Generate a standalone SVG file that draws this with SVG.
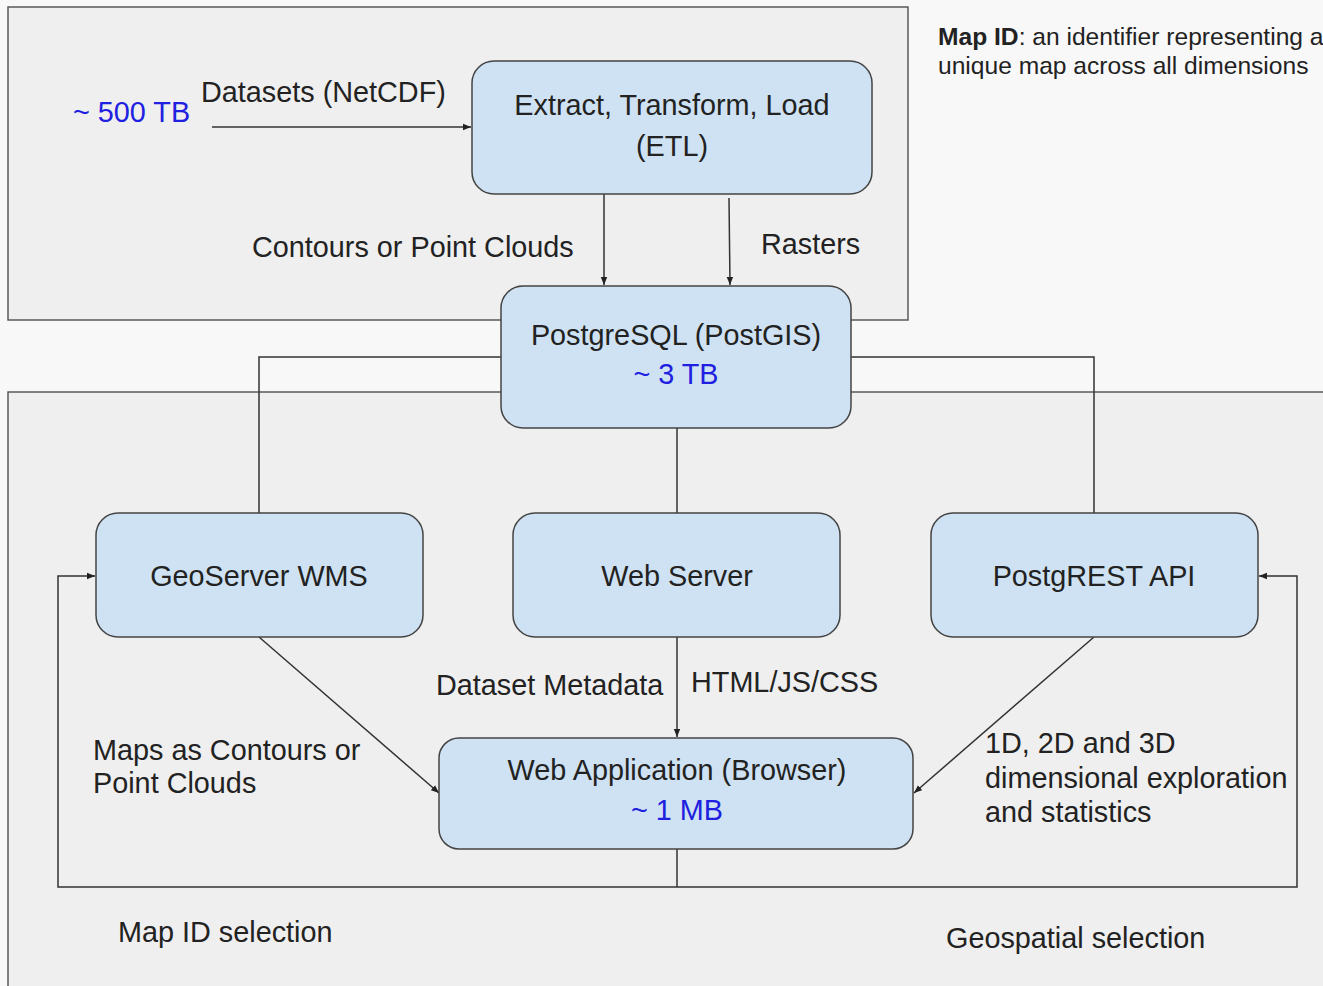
<svg xmlns="http://www.w3.org/2000/svg" width="1323" height="986" viewBox="0 0 1323 986">
<style>
.bg{fill:#f8f8f8}
.cont{fill:#efefef;stroke:#595959;stroke-width:1.5}
.node rect{fill:#cfe2f3;stroke:#444;stroke-width:1.5}
text{font-family:"Liberation Sans",Arial,sans-serif;font-size:28.8px;fill:#222}
.c{text-anchor:middle}
.blue{fill:#2020e0}
.conn line,.conn polyline{stroke:#333;stroke-width:1.5;fill:none}
.note{font-size:24.6px}
</style>
<defs>
<marker id="ah" viewBox="0 0 10 10" refX="10" refY="5" markerWidth="8" markerHeight="8" markerUnits="userSpaceOnUse" orient="auto">
<path d="M0,1 L10,5 L0,9 Z" fill="#222"/>
</marker>
</defs>
<rect class="bg" x="0" y="0" width="1323" height="986"/>
<rect id="top-container" class="cont" x="8" y="7" width="900" height="313"/>
<rect id="bottom-container" class="cont" x="8" y="392" width="1330" height="620"/>

<g class="conn" id="connectors">
<line x1="212" y1="127" x2="471" y2="127" marker-end="url(#ah)"/>
<line x1="604" y1="194" x2="604" y2="285" marker-end="url(#ah)"/>
<line x1="729" y1="198" x2="730" y2="285" marker-end="url(#ah)"/>
<polyline points="501,357 259,357 259,513"/>
<polyline points="851,357 1094,357 1094,513"/>
<line x1="677" y1="428" x2="677" y2="513"/>
<line x1="677" y1="637" x2="677" y2="737" marker-end="url(#ah)"/>
<line x1="259" y1="637" x2="439" y2="793" marker-end="url(#ah)"/>
<line x1="1094" y1="637" x2="914" y2="793" marker-end="url(#ah)"/>
<line x1="677" y1="849" x2="677" y2="887"/>
<polyline points="677,887 58,887 58,576 95,576" marker-end="url(#ah)"/>
<polyline points="677,887 1297,887 1297,576 1259,576" marker-end="url(#ah)"/>
</g>

<g id="etl" class="node">
<rect x="472" y="61" width="400" height="133" rx="22"/>
<text class="c" x="672" y="115">Extract, Transform, Load</text>
<text class="c" x="672" y="156">(ETL)</text>
</g>
<g id="postgres" class="node">
<rect x="501" y="286" width="350" height="142" rx="22"/>
<text class="c" x="676" y="345">PostgreSQL (PostGIS)</text>
<text class="c blue" x="676" y="384">~ 3 TB</text>
</g>
<g id="geoserver" class="node">
<rect x="96" y="513" width="327" height="124" rx="22"/>
<text class="c" x="259" y="586">GeoServer WMS</text>
</g>
<g id="webserver" class="node">
<rect x="513" y="513" width="327" height="124" rx="22"/>
<text class="c" x="677" y="586">Web Server</text>
</g>
<g id="postgrest" class="node">
<rect x="931" y="513" width="327" height="124" rx="22"/>
<text class="c" x="1094" y="586">PostgREST API</text>
</g>
<g id="webapp" class="node">
<rect x="439" y="738" width="474" height="111" rx="20"/>
<text class="c" x="677" y="780">Web Application (Browser)</text>
<text class="c blue" x="677" y="820">~ 1 MB</text>
</g>

<g id="labels">
<text class="blue" x="73" y="122">~ 500 TB</text>
<text x="201" y="102">Datasets (NetCDF)</text>
<text x="252" y="257">Contours or Point Clouds</text>
<text x="761" y="254">Rasters</text>
<text x="436" y="695">Dataset Metadata</text>
<text x="691" y="692">HTML/JS/CSS</text>
<text x="93" y="760">Maps as Contours or</text>
<text x="93" y="793">Point Clouds</text>
<text x="985" y="753">1D, 2D and 3D</text>
<text x="985" y="788">dimensional exploration</text>
<text x="985" y="822">and statistics</text>
<text x="118" y="942">Map ID selection</text>
<text x="946" y="948">Geospatial selection</text>
<text class="note" x="938" y="45"><tspan font-weight="bold">Map ID</tspan>: an identifier representing a</text>
<text class="note" x="938" y="74">unique map across all dimensions</text>
</g>
</svg>
